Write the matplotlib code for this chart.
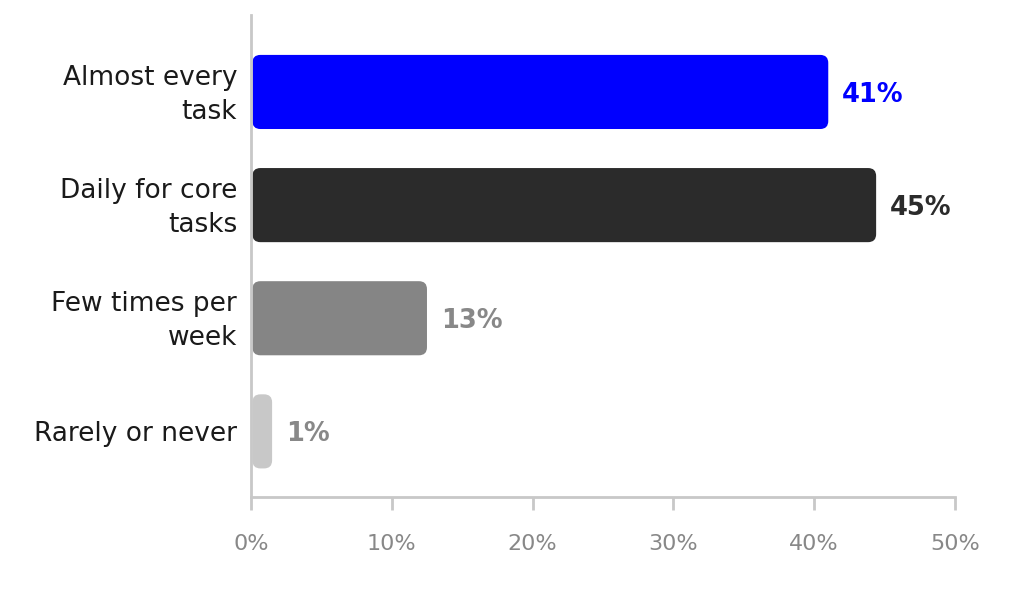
import matplotlib
matplotlib.use("Agg")
import matplotlib.pyplot as plt
import matplotlib.transforms as mtrans
from matplotlib.patches import FancyBboxPatch
from matplotlib.ticker import FuncFormatter

categories = ["Almost every\ntask", "Daily for core\ntasks", "Few times per\nweek", "Rarely or never"]
values = [41.0, 44.4, 12.5, 1.5]
value_labels = ["41%", "45%", "13%", "1%"]
bar_colors = ["#0000ff", "#2b2b2b", "#858585", "#c8c8c8"]
label_colors = ["#0000ff", "#2b2b2b", "#888888", "#888888"]
x_ticks = [0, 10, 20, 30, 40, 50]

plt.rcParams['font.family'] = ['DejaVu Sans']

fig = plt.figure(figsize=(10.24, 5.94), dpi=100)
ax = fig.add_axes([0.2451, 0.1633, 0.6875, 0.8114])

ypos = list(range(len(categories)))
ax.set_xlim(0, 50)
ax.set_ylim(3.58, -0.68)
bar_h = 0.655

# aspect conversion for rounded corners
fig.canvas.draw()
bbox = ax.get_window_extent()
x_per_px = 50 / bbox.width
y_per_px = (3.58 + 0.68) / bbox.height
radius_px = 8
for y, v, c in zip(ypos, values, bar_colors):
    p = FancyBboxPatch((0.1, y - bar_h / 2), v - 0.1, bar_h,
                       boxstyle=f"round,pad=0,rounding_size={radius_px * x_per_px}",
                       mutation_aspect=y_per_px / x_per_px,
                       facecolor=c, edgecolor='none', zorder=2)
    ax.add_patch(p)

for y, v, t, c in zip(ypos, values, value_labels, label_colors):
    ax.annotate(t, xy=(v, y), xytext=(10, -2), textcoords='offset points',
                va='center', ha='left', fontsize=18.5, fontweight='bold', color=c)

ax.set_yticks(ypos)
ax.set_yticklabels(categories, fontsize=19, color='#1a1a1a', linespacing=1.42)
ax.tick_params(axis='y', length=0, pad=10)
for lbl in ax.get_yticklabels():
    if "\n" in lbl.get_text():
        lbl.set_transform(lbl.get_transform() +
                          mtrans.ScaledTranslation(0, 3 / 72, fig.dpi_scale_trans))
ax.set_xticks(x_ticks)
ax.xaxis.set_major_formatter(FuncFormatter(lambda v, p: f"{int(v)}%"))
ax.tick_params(axis='x', length=9, width=2, color='#c8c8c8', labelcolor='#888888',
               labelsize=16, pad=18)

for s in ['top', 'right']:
    ax.spines[s].set_visible(False)
for s in ['left', 'bottom']:
    ax.spines[s].set_color('#c8c8c8')
    ax.spines[s].set_linewidth(2)

fig.savefig("out.png", dpi=100, facecolor='white')
